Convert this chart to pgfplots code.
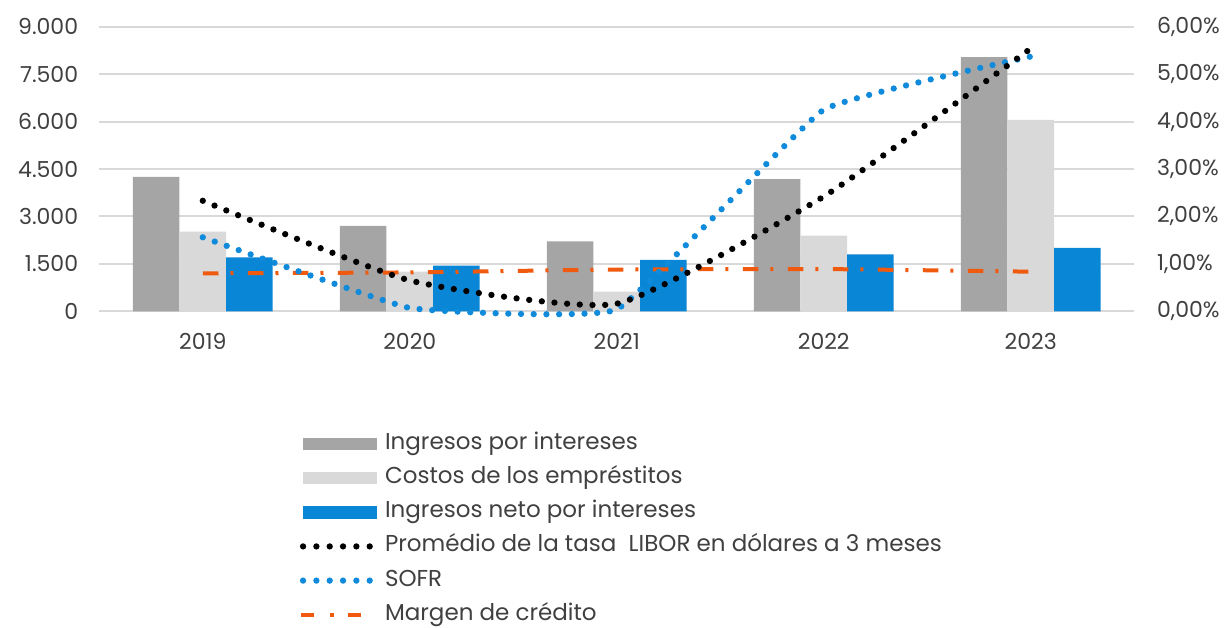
\documentclass[border=0pt]{standalone}
\usepackage{pgfplots}
\pgfplotsset{compat=1.18}
\usepackage{pgfplotstable}
\usepackage{fontspec}
\setmainfont{Poppins}
\definecolor{cgray}{HTML}{A5A5A5}
\definecolor{clight}{HTML}{D9D9D9}
\definecolor{cblue}{HTML}{0A86D6}
\definecolor{csofr}{HTML}{108BDC}
\definecolor{corange}{HTML}{F05A0F}
\definecolor{cgrid}{HTML}{D9D9D9}
\definecolor{ctext}{HTML}{404040}

\pgfplotstableread{
x ing cost neto
0 4250 2519 1709
1 2700 1253 1443
2 2215 620 1624
3 4177 2392 1804
4 8038 6054 2003
}\bars

\pgfplotstableread{
x libor sofr margen
0 2.33 1.56 0.80
1 0.65 0.07 0.82
2 0.16 0.04 0.88
3 2.42 4.25 0.89
4 5.54 5.37 0.835
}\rates

\begin{document}
\begin{tikzpicture}
\useasboundingbox (0,0) rectangle (1228pt,628pt);
\pgfplotsset{
  common/.style={
    at={(99.3pt,316.7pt)}, anchor=south west,
    scale only axis, width=1035pt, height=284.6pt,
    xmin=-0.5, xmax=4.5,
    axis line style={draw=none},
    major tick length=0pt,
    ticklabel style={font=\fontsize{22}{26}\selectfont, text=ctext, inner sep=0pt},
  }
}
\begin{axis}[common,
  axis x line*=bottom, axis y line*=left,
  ymin=0, ymax=9000,
  xtick={0,1,2,3,4}, xticklabels={2019,2020,2021,2022,2023},
  xticklabel style={anchor=north, yshift=-21.7pt},
  ytick={0,1500,3000,4500,6000,7500,9000},
  yticklabels={0,1.500,3.000,4.500,6.000,7.500,9.000},
  yticklabel style={anchor=east, xshift=-21pt},
  ymajorgrids, grid style={cgrid, line width=2pt},
  ybar=0pt, bar width=46.6pt,
  legend cell align=left,
  legend style={draw=none, fill=none, at={(0.1903,-0.421)}, anchor=north west,
    font=\fontsize{23}{27}\selectfont, text=ctext,
    row sep=13.2pt,
    nodes={inner sep=0pt, text height=16pt, text depth=5pt},
    /tikz/every odd column/.append style={column sep=8pt}},
]
\addplot[fill=cgray, draw=none,
  legend image code/.code={\fill[cgray] (0pt,-6.3pt) rectangle (74pt,6.3pt);}]
  table[x=x, y=ing]{\bars};
\addlegendentry{Ingresos por intereses}
\addplot[fill=clight, draw=none,
  legend image code/.code={\fill[clight] (0pt,-6.3pt) rectangle (74pt,6.3pt);}]
  table[x=x, y=cost]{\bars};
\addlegendentry{Costos de los empréstitos}
\addplot[fill=cblue, draw=none,
  legend image code/.code={\fill[cblue] (0pt,-6.3pt) rectangle (74pt,6.3pt);}]
  table[x=x, y=neto]{\bars};
\addlegendentry{Ingresos neto por intereses}
\addlegendimage{legend image code/.code={\draw[black, line width=6.3pt, line cap=round, dash pattern=on 0pt off 13.33pt] (0pt,0pt) -- (68pt,0pt);}}
\addlegendentry{Promédio de la tasa \ LIBOR en dólares a 3 meses}
\addlegendimage{legend image code/.code={\draw[csofr, line width=6.3pt, line cap=round, dash pattern=on 0pt off 13.33pt] (0pt,0pt) -- (68pt,0pt);}}
\addlegendentry{SOFR}
\addlegendimage{legend image code/.code={\draw[corange, line width=4pt, dash pattern=on 12.7pt off 15.6pt on 4pt off 14.4pt] (-1.6pt,0pt) -- (59.5pt,0pt);}}
\addlegendentry{Margen de crédito}
\end{axis}

\begin{axis}[common,
  axis x line=none, axis y line*=right,
  ymin=0, ymax=6, clip=false,
  ytick={0,1,2,3,4,5,6},
  yticklabels={{0,00\%},{1,00\%},{2,00\%},{3,00\%},{4,00\%},{5,00\%},{6,00\%}},
  yticklabel style={anchor=west, xshift=22.7pt},
]
\addplot[smooth, tension=0.3, corange, line width=4pt, dash pattern=on 15.7pt off 12pt on 3pt off 14.3pt] table[x=x, y=margen]{\rates};
\addplot[smooth, tension=0.18, csofr, line width=6.3pt, line cap=round, dash pattern=on 0pt off 12.7pt] table[x=x, y=sofr]{\rates};
\addplot[smooth, tension=0.3, black, line width=6.3pt, line cap=round, dash pattern=on 0pt off 12.7pt] table[x=x, y=libor]{\rates};
\end{axis}
\end{tikzpicture}
\end{document}
